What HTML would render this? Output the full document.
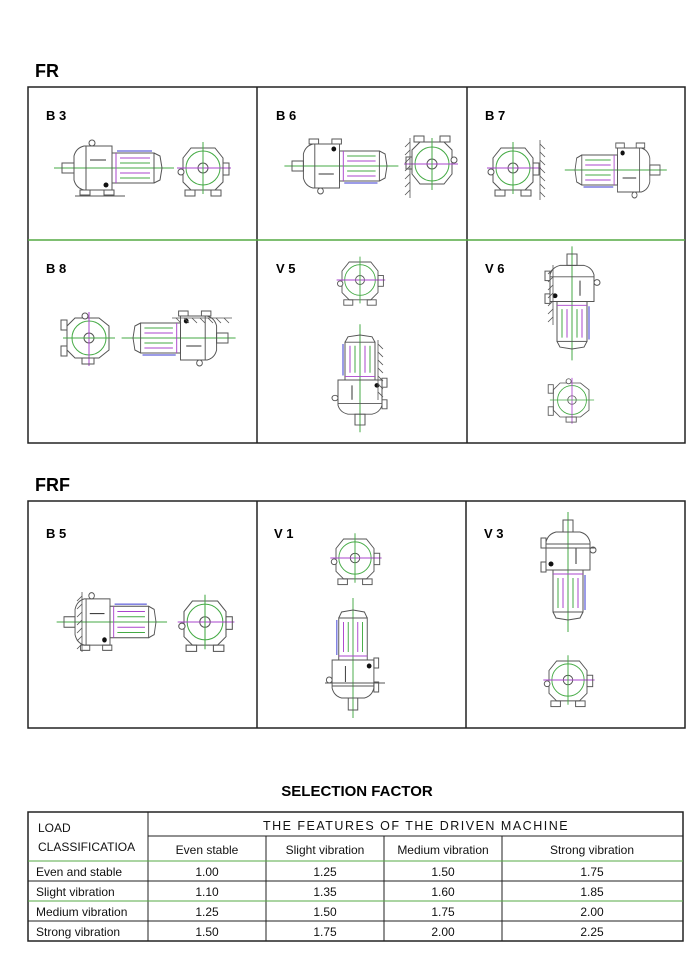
<!DOCTYPE html>
<html><head><meta charset="utf-8"><style>
body{margin:0;background:#fff;}
svg{display:block}
text{font-family:"Liberation Sans",sans-serif;}
</style></head><body>
<svg width="700" height="975" viewBox="0 0 700 975" xmlns="http://www.w3.org/2000/svg">
<defs>
<g id="hm" fill="none" stroke-width="1">
 <line x1="-8" y1="0" x2="112" y2="0" stroke="#4a4"/>
 <rect x="0" y="-5" width="12" height="10" stroke="#555"/>
 <path d="M12,-12 Q14,-20 22,-22 L50,-22 L50,22 L22,22 Q14,20 12,12 Z" stroke="#555"/>
 <line x1="24" y1="-22" x2="24" y2="22" stroke="#555"/>
 <line x1="28" y1="-8" x2="44" y2="-8" stroke="#333"/>
 <circle cx="30" cy="-25" r="3" stroke="#555" fill="#fff"/>
 <rect x="50" y="-15" width="42" height="30" stroke="#555"/>
 <line x1="54" y1="-15" x2="54" y2="15" stroke="#a4c"/>
 <line x1="58" y1="-10" x2="88" y2="-10" stroke="#a4c"/>
 <line x1="58" y1="-5" x2="88" y2="-5" stroke="#4a4"/>
 <line x1="58" y1="5" x2="88" y2="5" stroke="#a4c"/>
 <line x1="58" y1="10" x2="88" y2="10" stroke="#4a4"/>
 <line x1="55" y1="-17" x2="90" y2="-17" stroke="#3a3ad0"/>
 <path d="M92,-15 L98,-12 L100,0 L98,12 L92,15" stroke="#555"/>
 <rect x="18" y="22" width="10" height="5" stroke="#555"/>
 <rect x="42" y="22" width="10" height="5" stroke="#555"/>
 <circle cx="44" cy="17" r="2.5" fill="#111" stroke="none"/>
</g>
<g id="ev" fill="none" stroke-width="1">
 <path d="M-12,-20 L12,-20 L20,-10 L20,14 L12,22 L-12,22 L-20,14 L-20,-10 Z" stroke="#555"/>
 <circle r="17" stroke="#4a4"/>
 <circle r="5" stroke="#555"/>
 <line x1="-26" y1="0" x2="28" y2="0" stroke="#a4c"/>
 <line x1="0" y1="-26" x2="0" y2="26" stroke="#4a4"/>
 <rect x="20" y="-5" width="6" height="12" stroke="#555"/>
 <circle cx="-22" cy="4" r="3" stroke="#555" fill="#fff"/>
 <rect x="-18" y="22" width="10" height="6" stroke="#555"/>
 <rect x="8" y="22" width="10" height="6" stroke="#555"/>
</g>
<g id="wall" stroke="#555" stroke-width="0.8">
 <line x1="0" y1="0" x2="0" y2="60"/>
 <path d="M0,4 l-5,5 M0,12 l-5,5 M0,20 l-5,5 M0,28 l-5,5 M0,36 l-5,5 M0,44 l-5,5 M0,52 l-5,5"/>
</g>
</defs>

<text x="35" y="77" font-size="18" font-weight="bold">FR</text>
<g fill="none" stroke="#222" stroke-width="1.5">
 <rect x="28" y="87" width="657" height="356"/>
 <line x1="257" y1="87" x2="257" y2="443"/>
 <line x1="467" y1="87" x2="467" y2="443"/>
 <line x1="28" y1="240" x2="685" y2="240" stroke="#5a4"/>
</g>
<g font-size="13" font-weight="bold">
 <text x="46" y="120">B 3</text><text x="276" y="120">B 6</text><text x="485" y="120">B 7</text>
 <text x="46" y="273">B 8</text><text x="276" y="273">V 5</text><text x="485" y="273">V 6</text>
</g>
<use href="#hm" transform="translate(62,168)"/>
<use href="#ev" transform="translate(203,168)"/>
<line x1="75" y1="196" x2="125" y2="196" stroke="#555"/>
<use href="#hm" transform="translate(292,166) scale(0.95,-1)"/>
<use href="#ev" transform="translate(432,164) rotate(180)"/>
<use href="#wall" transform="translate(410,138)"/>
<use href="#ev" transform="translate(513,168)"/>
<use href="#wall" transform="translate(540,140) scale(-1,1)"/>
<use href="#hm" transform="translate(660,170) scale(-0.85,-1)"/>
<use href="#ev" transform="translate(89,338) rotate(90)"/>
<use href="#hm" transform="translate(228,338) scale(-0.95,-1)"/>
<use href="#wall" transform="translate(172,318) rotate(-90)"/>
<use href="#ev" transform="translate(360,280) scale(0.9)"/>
<use href="#hm" transform="translate(360,425) rotate(-90) scale(0.9,1)"/>
<use href="#wall" transform="translate(378,340) scale(-1,1)"/>
<use href="#hm" transform="translate(572,254) rotate(90) scale(0.95,1)"/>
<use href="#wall" transform="translate(553,265)"/>
<use href="#ev" transform="translate(572,400) rotate(90) scale(0.85)"/>

<text x="35" y="491" font-size="18" font-weight="bold">FRF</text>
<g fill="none" stroke="#222" stroke-width="1.5">
 <rect x="28" y="501" width="657" height="227"/>
 <line x1="257" y1="501" x2="257" y2="728"/>
 <line x1="466" y1="501" x2="466" y2="728"/>
</g>
<g font-size="13" font-weight="bold">
 <text x="46" y="538">B 5</text><text x="274" y="538">V 1</text><text x="484" y="538">V 3</text>
</g>
<use href="#hm" transform="translate(64,622) scale(0.92,1.05)"/>
<use href="#wall" transform="translate(82,592)"/>
<use href="#ev" transform="translate(205,622) scale(1.05)"/>
<use href="#ev" transform="translate(355,558) scale(0.95)"/>
<use href="#hm" transform="translate(353,710) rotate(-90) scale(1,0.95)"/>
<line x1="325" y1="683" x2="385" y2="683" stroke="#555"/>
<use href="#hm" transform="translate(568,520) rotate(90)"/>
<line x1="545" y1="548" x2="595" y2="548" stroke="#555"/>
<use href="#ev" transform="translate(568,680) scale(0.95)"/>

<text x="357" y="796" font-size="15" font-weight="bold" text-anchor="middle">SELECTION FACTOR</text>
<g fill="none" stroke="#222" stroke-width="1">
 <rect x="28" y="812" width="655" height="129" stroke-width="1.5"/>
 <line x1="148" y1="812" x2="148" y2="941"/>
 <line x1="148" y1="836" x2="683" y2="836"/>
 <line x1="266" y1="836" x2="266" y2="941"/>
 <line x1="384" y1="836" x2="384" y2="941"/>
 <line x1="502" y1="836" x2="502" y2="941"/>
 <line x1="28" y1="861" x2="683" y2="861" stroke="#5a4"/>
 <line x1="28" y1="881" x2="683" y2="881"/>
 <line x1="28" y1="901" x2="683" y2="901" stroke="#5a4"/>
 <line x1="28" y1="921" x2="683" y2="921"/>
</g>
<g font-size="12" fill="#111">
 <text x="38" y="832">LOAD</text>
 <text x="38" y="851">CLASSIFICATIOA</text>
 <text x="416" y="830" text-anchor="middle" letter-spacing="1.5" font-size="12.5">THE FEATURES OF THE DRIVEN MACHINE</text>
 <g text-anchor="middle">
  <text x="207" y="854">Even stable</text><text x="325" y="854">Slight vibration</text>
  <text x="443" y="854">Medium vibration</text><text x="592" y="854">Strong vibration</text>
  <text x="207" y="876">1.00</text><text x="325" y="876">1.25</text><text x="443" y="876">1.50</text><text x="592" y="876">1.75</text>
  <text x="207" y="896">1.10</text><text x="325" y="896">1.35</text><text x="443" y="896">1.60</text><text x="592" y="896">1.85</text>
  <text x="207" y="916">1.25</text><text x="325" y="916">1.50</text><text x="443" y="916">1.75</text><text x="592" y="916">2.00</text>
  <text x="207" y="936">1.50</text><text x="325" y="936">1.75</text><text x="443" y="936">2.00</text><text x="592" y="936">2.25</text>
 </g>
 <text x="36" y="876">Even and stable</text>
 <text x="36" y="896">Slight vibration</text>
 <text x="36" y="916">Medium vibration</text>
 <text x="36" y="936">Strong vibration</text>
</g>
</svg>
</body></html>
